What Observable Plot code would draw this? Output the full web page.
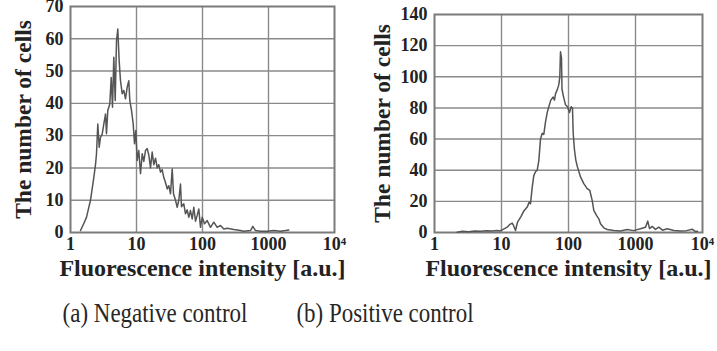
<!DOCTYPE html>
<html>
<head>
<meta charset="utf-8">
<script src="https://cdn.jsdelivr.net/npm/d3@7"></script>
<script src="https://cdn.jsdelivr.net/npm/@observablehq/plot@0.6"></script>
<style>
  body { margin: 0; background: #fff; width: 717px; height: 351px; overflow: hidden; position: relative; }
  .panel { position: absolute; top: 0; }
  .caption {
    position: absolute; top: 300px; font-family: "Liberation Serif", "Times New Roman", serif;
    font-size: 27px; line-height: 27px; color: #262626; white-space: nowrap;
    transform: translateX(-50%) scaleX(0.85);
  }
</style>
</head>
<body>
<div id="neg" class="panel" style="left:0px"></div>
<div id="pos" class="panel" style="left:357px"></div>
<div class="caption" style="left:155px">(a) Negative control</div>
<div class="caption" style="left:385px">(b) Positive control</div>
<script>
// Shared axis ticks
const xTicks = [1, 10, 100, 1000, 10000];
const negYTicks = [0, 10, 20, 30, 40, 50, 60, 70];
const posYTicks = [0, 20, 40, 60, 80, 100, 120, 140];

// (a) Negative control: fluorescence intensity [a.u.] and number of cells
const negIntensity = [1.417, 1.590, 1.747, 1.894, 2.009, 2.132, 2.254, 2.392, 2.477, 2.592,
  2.721, 2.848, 3.022, 3.195, 3.391, 3.511, 3.674, 3.940, 4.137, 4.329,
  4.530, 4.757, 4.977, 5.208, 5.469, 5.722, 6.071, 6.421, 6.813, 7.230,
  7.644, 7.915, 8.399, 8.913, 9.326, 9.759, 10.25, 10.83, 11.50, 12.20,
  12.90, 13.69, 14.53, 15.36, 16.30, 17.29, 18.29, 19.41, 20.59, 21.77,
  23.10, 24.51, 25.92, 27.50, 29.19, 30.86, 32.75, 34.75, 36.36, 38.99,
  41.37, 43.74, 46.42, 48.06, 52.08, 55.26, 58.64, 62.00, 65.79, 69.80,
  73.84, 78.32, 83.11, 87.88, 93.27, 98.97, 107.2, 117.8, 132.2, 148.4,
  167.0, 187.4, 210.3, 236.7, 298.0, 376.5, 418.0, 533.8, 578.3, 635.5,
  756.6, 955.7, 1203, 1520, 1809, 2031];
const negCells = [0.6, 2.8, 4.7, 7.8, 10, 13.6, 17, 21, 24.4, 33.6,
  26.4, 29.5, 30.5, 33.6, 36.7, 30.6, 37.8, 39.8, 48, 38.8,
  54.3, 40.9, 59.4, 63, 53, 47, 43, 44, 41.4, 45,
  47, 40.9, 37.8, 33.6, 27.5, 31.6, 22.3, 25.4, 18.2, 24.4,
  22, 25.4, 26, 24, 20, 24.9, 21, 23, 20, 21,
  18.7, 19.5, 17, 15.5, 13.5, 14.5, 12, 19.7, 12, 10,
  7.8, 10, 15, 8, 8.9, 5.8, 7, 4.7, 6.8, 4.2,
  7.8, 3.5, 5.3, 7.3, 1.6, 4.7, 2.7, 3.7, 1.6, 3.2,
  1.6, 2.2, 1.1, 1.3, 0.9, 0.6, 0.4, 0.6, 1.9, 0.6,
  0.4, 0.4, 0.6, 0.4, 0.6, 0.8];

// (b) Positive control: fluorescence intensity [a.u.] and number of cells
const posIntensity = [2.182, 2.618, 3.217, 3.954, 4.860, 5.972, 7.338, 8.626, 9.336, 10.24,
  11.09, 12.16, 13.17, 14.44, 15.11, 16.18, 17.33, 19.42, 21.67, 24.19,
  25.91, 27.09, 28.72, 30.35, 32.18, 34.11, 36.04, 38.20, 40.51, 42.80,
  45.37, 48.10, 50.82, 54.42, 59.10, 61.80, 63.97, 67.80, 71.64, 74.15,
  75.96, 78.62, 79.98, 84.22, 90.22, 96.63, 103.5, 109.7, 114.7, 117.5,
  122.9, 128.5, 136.2, 151.1, 169.2, 190.1, 207.9, 225.8, 238.6, 261.8,
  283.3, 300.3, 336.4, 378.1, 474.5, 597.2, 751.8, 933.6, 1187, 1410,
  1526, 1618, 1775, 1988, 2227, 2530, 2972, 3728, 4694, 5770,
  7020, 7863, 8423];
const posCells = [0.2, 0.8, 0.5, 1.0, 0.8, 1.1, 1.0, 1.3, 1.0, 1.7,
  2.5, 3.4, 5.0, 6.0, 4.5, 1.3, 6.6, 10, 14, 16.3,
  19.5, 18.5, 29, 36.5, 39, 40, 46, 60, 63.7, 63,
  71, 77, 80.8, 85, 87, 85, 89, 91.6, 94.8, 100,
  116, 112, 92, 87.3, 82, 80.8, 77, 80.8, 80, 63.7,
  53, 46.5, 42, 35.7, 31.4, 28.2, 27, 20.6, 14.2, 11,
  8.8, 5.6, 3, 1.9, 1.3, 1.0, 1.9, 1.2, 2.4, 3.4,
  7.3, 2.5, 3.9, 2.0, 3.4, 1.5, 2.4, 1.3, 1.0, 1.2,
  2.1, 0.6, 0.8];

const serif = "Liberation Serif, Times New Roman, serif";
const fmtX = d => d === 10000 ? "10\u2074" : String(d);

function histogram(intensity, cells, yTicks, box) {
  const rows = intensity.map((x, i) => ({x, y: cells[i]}));
  const H = 290;
  return Plot.plot({
    width: box.width,
    height: H,
    marginLeft: box.left,
    marginRight: box.width - box.right,
    marginTop: box.top,
    marginBottom: H - 232,
    style: {fontFamily: serif, color: "#222", background: "transparent", overflow: "visible"},
    x: {type: "log", domain: [1, 10000]},
    y: {domain: [0, yTicks[yTicks.length - 1]]},
    marks: [
      Plot.gridX(xTicks.slice(1, -1), {stroke: "#8a8a8a", strokeOpacity: 1, strokeWidth: 1.4}),
      Plot.gridY(yTicks.slice(1, -1), {stroke: "#8a8a8a", strokeOpacity: 1, strokeWidth: 1.4}),
      Plot.frame({stroke: "#7a7a7a", strokeWidth: 2}),
      Plot.line(rows, {x: "x", y: "y", stroke: "#555", strokeWidth: 1.5}),
      Plot.axisX(xTicks, {tickSize: 0, tickPadding: 5, tickFormat: fmtX, fontSize: 18, fontWeight: "bold", label: null}),
      Plot.axisY(yTicks, {tickSize: 0, tickPadding: 7, fontSize: 18, fontWeight: "bold", label: null}),
      Plot.text(["Fluorescence intensity [a.u.]"], {
        text: d => d, frameAnchor: "bottom", dy: 36, lineAnchor: "middle", textAnchor: "middle",
        fontSize: 24, fontWeight: "bold", fill: "#222"
      }),
      Plot.text(["The number of cells"], {
        text: d => d, frameAnchor: "left", dx: -box.titleGap, rotate: -90, lineAnchor: "middle", textAnchor: "middle",
        fontSize: 23.5, fontWeight: "bold", fill: "#222"
      })
    ]
  });
}

document.getElementById("neg").append(
  histogram(negIntensity, negCells, negYTicks, {width: 357, left: 70, right: 334, top: 6, titleGap: 47})
);
document.getElementById("pos").append(
  histogram(posIntensity, posCells, posYTicks, {width: 360, left: 77, right: 345, top: 14, titleGap: 52})
);
</script>
</body>
</html>
